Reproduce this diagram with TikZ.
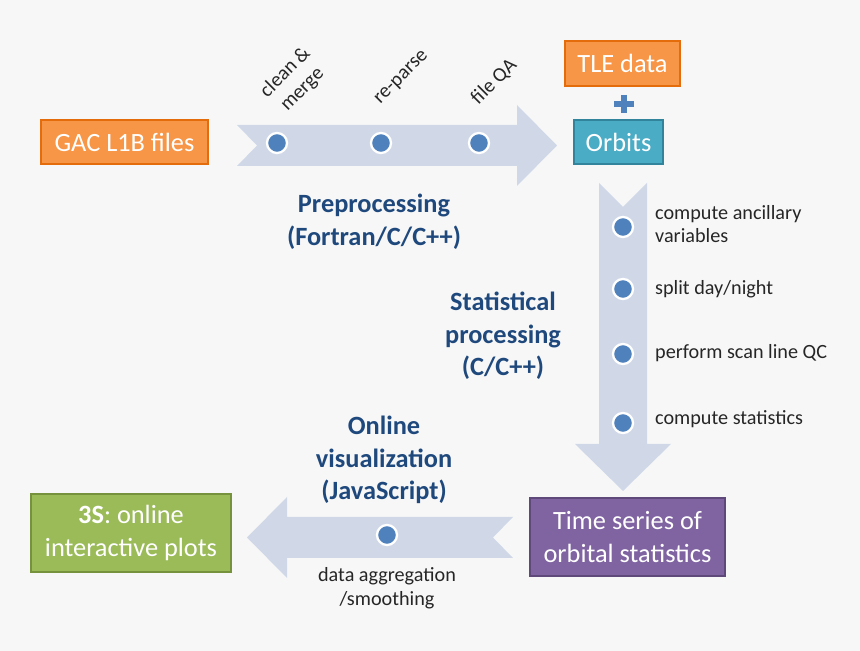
\documentclass[tikz,border=0pt]{standalone}
\usepackage{fontspec}
\setmainfont{Carlito}
\usepackage{tikz}
\usetikzlibrary{positioning}

\definecolor{bgcol}{HTML}{F7F7F7}
\definecolor{arrowcol}{HTML}{D0D8E8}
\definecolor{dotcol}{HTML}{4F81BD}
\definecolor{titlecol}{HTML}{1F497D}
\definecolor{txtcol}{HTML}{262626}
\definecolor{orangefill}{HTML}{F79646}
\definecolor{orangeline}{HTML}{E46C0A}
\definecolor{tealfill}{HTML}{4BACC6}
\definecolor{tealline}{HTML}{31849B}
\definecolor{purplefill}{HTML}{8064A2}
\definecolor{purpleline}{HTML}{5F497A}
\definecolor{greenfill}{HTML}{9BBB59}
\definecolor{greenline}{HTML}{76923C}

\begin{document}
\begin{tikzpicture}[x={(0.02cm,0)}, y={(0,-0.02cm)},
        box/.style={rectangle, draw, line width=1.2pt, text=white, align=center, inner sep=0pt,
            font=\fontsize{15}{18.5}\selectfont},
        dot/.style={circle, fill=dotcol, draw=white, line width=1.3pt, minimum size=0.4cm, inner sep=0pt},
        stage/.style={text=titlecol, align=center, font=\fontsize{15}{18.5}\selectfont\bfseries},
        step label/.style={text=txtcol, align=left, font=\fontsize{11.5}{13.5}\selectfont},
        bigarrow/.style={fill=arrowcol}]

        % background
        \fill[bgcol] (0,0) rectangle (860,651);

        % Preprocessing
        \fill[bigarrow] (237,125) -- (517,125) -- (517,105) -- (557,145.5) -- (517,186)
            -- (517,166) -- (237,166) -- (257,145.5) -- cycle;
        \node[box, fill=orangefill, draw=orangeline, minimum width=3.34cm, minimum height=0.88cm] (gac) at (124.5,142) {GAC L1B files};
        \node[dot] (p1) at (277,143) {};
        \node[dot] (p2) at (381,143) {};
        \node[dot] (p3) at (479,143) {};
        \node[step label, align=center, rotate=45] (clean) at (294,81) {clean \&\\merge};
        \node[step label, rotate=45] (reparse) at (402,78) {re-parse};
        \node[step label, rotate=45] (fileqa) at (494,82) {file QA};
        \node[stage] (pre) at (374,222) {Preprocessing\\(Fortran/C/C++)};

        % Orbits
        \node[box, fill=orangefill, draw=orangeline, minimum width=2.3cm, minimum height=0.9cm] (tle) at (622.5,63.5) {TLE data};
        \draw[dotcol, line width=3.4pt] (614,104) -- (634,104) (624,95) -- (624,113);
        \node[box, fill=tealfill, draw=tealline, minimum width=1.78cm, minimum height=0.88cm] (orbits) at (618.5,142) {Orbits};

        % Statistical processing
        \fill[bigarrow] (599,183) -- (623,207) -- (647,183) -- (647,444) -- (671,444)
            -- (623,491) -- (575,444) -- (599,444) -- cycle;
        \node[dot] (s1) at (623,227) {};
        \node[dot] (s2) at (623,289) {};
        \node[dot] (s3) at (623,354) {};
        \node[dot] (s4) at (623,423) {};
        \node[step label, anchor=west] (ancil) at (649,224) {compute ancillary\\variables};
        \node[step label, anchor=west] (split) at (649,289) {split day/night};
        \node[step label, anchor=west] (scanqc) at (649,353) {perform scan line QC};
        \node[step label, anchor=west] (stats) at (649,419) {compute statistics};
        \node[stage] (statproc) at (503,336) {Statistical\\processing\\(C/C++)};
        \node[box, fill=purplefill, draw=purpleline, minimum width=3.9cm, minimum height=1.56cm] (series) at (627.5,537) {Time series of\\orbital statistics};

        % Online visualization
        \fill[bigarrow] (513,517) -- (493,537.5) -- (513,558) -- (287,558) -- (287,578)
            -- (247,537.5) -- (287,497) -- (287,517) -- cycle;
        \node[dot] (v1) at (387,535) {};
        \node[step label, align=center] (aggr) at (387,588) {data aggregation\\/smoothing};
        \node[stage] (online) at (384,460) {Online\\visualization\\(JavaScript)};
        \node[box, fill=greenfill, draw=greenline, minimum width=4.0cm, minimum height=1.56cm] (plots) at (131,533) {\textbf{3S}: online\\interactive plots};
    \end{tikzpicture}
\end{document}
